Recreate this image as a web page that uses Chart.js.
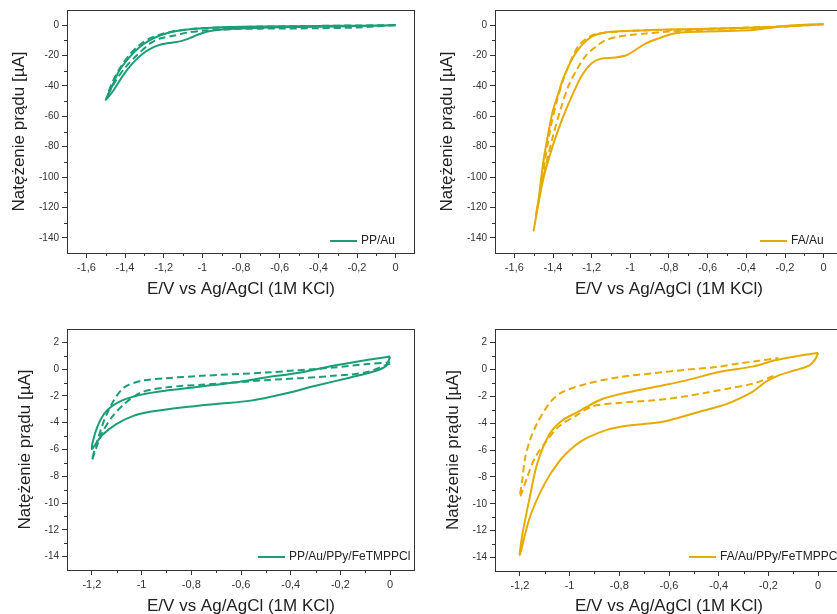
<!DOCTYPE html>
<html lang="pl">
<head>
<meta charset="UTF-8">
<title>Woltamperometria cykliczna</title>
<script src="https://cdn.jsdelivr.net/npm/chart.js"></script>
<style>
  * { box-sizing:border-box; }
  body { margin:0; width:837px; height:614px; overflow:hidden; background:#fff; position:relative; }
  canvas { position:absolute; }
</style>
</head>
<body>
<canvas id="c1" width="420" height="307" style="left:0;top:0"></canvas>
<canvas id="c2" width="430" height="307" style="left:420px;top:0"></canvas>
<canvas id="c3" width="420" height="320" style="left:0;top:307px"></canvas>
<canvas id="c4" width="430" height="320" style="left:420px;top:307px"></canvas>

<script>
  // 1) Dane (E w V, I w µA)
  const ppAuSolidE = [0, -0.2, -0.4, -0.6, -0.8, -0.9, -0.96, -1.01, -1.06, -1.11, -1.16, -1.21, -1.26, -1.31, -1.36, -1.41, -1.46, -1.5,
                      -1.47, -1.43, -1.38, -1.33, -1.28, -1.22, -1.16, -1.1, -1.0, -0.9, -0.7, -0.4, -0.2, 0];
  const ppAuSolidI = [0, -0.6, -1.0, -1.4, -2.1, -2.8, -3.8, -5.6, -8.3, -10.5, -11.5, -12.6, -15, -19, -25, -33, -43, -49,
                      -41, -30, -21.5, -15, -10.5, -6.8, -4.5, -3.2, -2.0, -1.4, -0.9, -0.5, -0.3, 0];
  const ppAuDashE  = [0, -0.2, -0.4, -0.6, -0.8, -0.9, -1.0, -1.08, -1.15, -1.22, -1.27, -1.34, -1.4, -1.45, -1.49,
                      -1.47, -1.43, -1.38, -1.33, -1.28, -1.22, -1.16, -1.1, -1.0, -0.8, -0.5, -0.2, 0];
  const ppAuDashI  = [0, -1.5, -2.0, -2.2, -2.4, -2.9, -3.7, -4.9, -7.0, -8.8, -12, -20, -28, -37, -46,
                      -39, -29, -20, -13.5, -9.2, -6.2, -4.3, -3.2, -2.0, -1.2, -0.6, -0.2, 0];

  const faAuSolidE = [0, -0.1, -0.2, -0.28, -0.35, -0.45, -0.55, -0.65, -0.72, -0.78, -0.85, -0.92, -0.97, -1.02, -1.08, -1.15, -1.2, -1.25, -1.3, -1.35, -1.4, -1.45, -1.5,
                      -1.48, -1.45, -1.42, -1.4, -1.37, -1.35, -1.3, -1.25, -1.2, -1.15, -1.1, -1.0, -0.9, -0.8, -0.6, -0.4, -0.2, -0.1, 0];
  const faAuSolidI = [0.7, 0.3, -0.6, -1.8, -3.0, -3.6, -4.0, -4.3, -4.6, -5.6, -8.5, -12, -16, -19.8, -21.3, -22, -25, -33, -46, -61, -79, -101, -135,
                      -120, -90, -68, -56, -44, -36, -22, -13, -7.5, -5.3, -4.4, -3.6, -3.2, -2.9, -2.4, -1.7, -0.8, -0.1, 0.7];
  const faAuDashE  = [0, -0.2, -0.4, -0.6, -0.8, -0.92, -1.0, -1.07, -1.13, -1.18, -1.23, -1.28, -1.32, -1.36, -1.4, -1.45, -1.49,
                      -1.47, -1.44, -1.41, -1.38, -1.35, -1.31, -1.27, -1.23, -1.18, -1.1, -1.0, -0.8, -0.6, -0.4, -0.2, 0];
  const faAuDashI  = [0.5, -0.9, -1.9, -2.8, -4.2, -5.5, -6.5, -7.7, -10, -14.3, -20, -30, -40, -55, -73, -100, -126,
                      -112, -88, -66, -50, -37, -24, -14, -9, -6, -4.5, -3.7, -3.0, -2.4, -1.6, -0.6, 0.5];

  const ppFeSolidE = [0, -0.016, -0.056, -0.16, -0.3, -0.43, -0.56, -0.7, -0.83, -0.96, -1.03, -1.1, -1.16, -1.2,
                      -1.18, -1.14, -1.08, -1.0, -0.9, -0.76, -0.63, -0.5, -0.36, -0.23, -0.1, 0];
  const ppFeSolidI = [0.94, 0.25, -0.12, -0.62, -1.24, -1.86, -2.35, -2.6, -2.85, -3.17, -3.47, -4.08, -4.95, -5.95,
                      -4.4, -3.1, -2.35, -1.9, -1.6, -1.29, -1.0, -0.62, -0.25, 0.25, 0.67, 0.94];
  const ppFeDashE  = [0, -0.1, -0.23, -0.36, -0.5, -0.63, -0.76, -0.9, -1.0, -1.07, -1.12, -1.16, -1.2,
                      -1.16, -1.12, -1.07, -1.0, -0.9, -0.76, -0.5, -0.23, -0.1, 0];
  const ppFeDashI  = [0.42, -0.25, -0.5, -0.67, -0.82, -1.0, -1.16, -1.36, -1.73, -2.6, -3.6, -4.8, -6.8,
                      -4.3, -2.6, -1.36, -0.87, -0.67, -0.5, -0.25, 0.12, 0.37, 0.5];

  const faFeSolidE = [0, -0.01, -0.035, -0.09, -0.156, -0.21, -0.263, -0.344, -0.4, -0.46, -0.53, -0.6, -0.66, -0.77, -0.85, -0.93, -0.98, -1.04, -1.1, -1.16, -1.2,
                      -1.19, -1.16, -1.13, -1.08, -1.03, -0.97, -0.88, -0.8, -0.66, -0.53, -0.4, -0.26, -0.17, -0.08, 0];
  const faFeSolidI = [1.23, 0.8, 0.3, -0.05, -0.43, -0.92, -1.66, -2.4, -2.76, -3.06, -3.43, -3.8, -4.0, -4.2, -4.5, -5.1, -5.7, -6.8, -8.5, -11.0, -13.8,
                      -12.3, -9.5, -7.0, -4.8, -3.8, -3.2, -2.3, -1.86, -1.32, -0.82, -0.2, 0.22, 0.69, 1.0, 1.23];
  const faFeDashE  = [-0.18, -0.26, -0.36, -0.53, -0.66, -0.8, -0.91, -0.97, -1.04, -1.09, -1.14, -1.17, -1.2,
                      -1.19, -1.18, -1.16, -1.13, -1.08, -1.03, -0.93, -0.8, -0.66, -0.53, -0.4, -0.32, -0.24, -0.16];
  const faFeDashI  = [-0.5, -1.05, -1.42, -2.0, -2.3, -2.5, -2.76, -3.4, -4.2, -5.26, -6.6, -8.0, -9.5,
                      -8.2, -6.7, -5.3, -4.0, -2.5, -1.7, -1.07, -0.58, -0.28, -0.03, 0.19, 0.44, 0.63, 0.85];

  // 2) Osie
  const xTicksWide   = [-1.6, -1.4, -1.2, -1.0, -0.8, -0.6, -0.4, -0.2, 0];
  const xMinorWide   = [-1.5, -1.3, -1.1, -0.9, -0.7, -0.5, -0.3, -0.1];
  const yTicksBig    = [0, -20, -40, -60, -80, -100, -120, -140];
  const yMinorBig    = [-10, -30, -50, -70, -90, -110, -130];
  const xTicksNarrow = [-1.2, -1.0, -0.8, -0.6, -0.4, -0.2, 0];
  const xMinorNarrow = [-1.1, -0.9, -0.7, -0.5, -0.3, -0.1];
  const yTicksSmall  = [2, 0, -2, -4, -6, -8, -10, -12, -14];
  const yMinorSmall  = [1, -1, -3, -5, -7, -9, -11, -13];

  const GREEN  = '#1b9e77';
  const YELLOW = '#e6ab02';
  const FONT   = "'Liberation Sans', Arial, sans-serif";
  const AXIS   = '#333';

  const pts = (E, I) => E.map((e, i) => ({x: e, y: I[i]}));
  const fmt = v => String(+(+v).toFixed(1)).replace('.', ',');

  // ramka, male podzialki, legenda w srodku
  const extras = {
    id: 'extras',
    afterDraw(chart, args, o) {
      const {ctx, chartArea: a, scales: {x, y}} = chart;
      ctx.save();
      ctx.strokeStyle = AXIS;
      ctx.lineWidth = 1;
      ctx.strokeRect(a.left + 0.5, a.top + 0.5, a.right - a.left - 1, a.bottom - a.top);
      ctx.beginPath();
      o.minorX.forEach(v => {
        const px = Math.round(x.getPixelForValue(v)) + 0.5;
        ctx.moveTo(px, a.bottom); ctx.lineTo(px, a.bottom + 3);
      });
      o.minorY.forEach(v => {
        const py = Math.round(y.getPixelForValue(v)) + 0.5;
        ctx.moveTo(a.left, py); ctx.lineTo(a.left - 3, py);
      });
      ctx.stroke();
      // legenda
      const lx = a.left + o.legendX, ly = a.bottom - o.legendY;
      ctx.strokeStyle = o.color; ctx.lineWidth = 2;
      ctx.beginPath(); ctx.moveTo(lx, ly); ctx.lineTo(lx + 27, ly); ctx.stroke();
      ctx.fillStyle = '#222';
      ctx.font = '12px ' + FONT;
      ctx.textBaseline = 'middle';
      ctx.fillText(o.label, lx + 31, ly);
      ctx.restore();
    }
  };

  function makeChart(id, p) {
    new Chart(document.getElementById(id), {
      type: 'scatter',
      data: {
        datasets: [
          { data: pts(p.dashE, p.dashI), showLine: true, borderColor: p.color, borderWidth: 2, borderDash: [7, 4], pointRadius: 0, tension: 0.3 },
          { data: pts(p.solidE, p.solidI), showLine: true, borderColor: p.color, borderWidth: 2, pointRadius: 0, tension: 0.3 }
        ]
      },
      options: {
        responsive: false,
        animation: false,
        layout: { padding: p.pad },
        plugins: {
          legend: { display: false },
          tooltip: { enabled: false },
          extras: { minorX: p.minorX, minorY: p.minorY, color: p.color, label: p.label, legendX: p.legendX, legendY: p.legendY }
        },
        scales: {
          x: {
            type: 'linear', min: p.xMin, max: p.xMax,
            afterBuildTicks: s => { s.ticks = p.xTicks.map(v => ({value: v})); },
            afterFit: s => { s.height = p.xH; },
            ticks: { callback: fmt, autoSkip: false, maxRotation: 0, padding: 3, color: AXIS, font: { family: FONT, size: 11 } },
            grid: { drawOnChartArea: false, tickLength: 5, color: AXIS },
            border: { display: false },
            title: { display: true, text: 'E/V vs Ag/AgCl (1M KCl)', color: '#222', font: { family: FONT, size: 17 }, padding: { top: 0, bottom: p.xTitlePad } }
          },
          y: {
            type: 'linear', min: p.yMin, max: p.yMax,
            afterBuildTicks: s => { s.ticks = p.yTicks.map(v => ({value: v})); },
            afterFit: s => { s.width = p.yW; },
            ticks: { callback: fmt, autoSkip: false, padding: 3, color: AXIS, font: { family: FONT, size: 10 } },
            grid: { drawOnChartArea: false, tickLength: 5, color: AXIS },
            border: { display: false },
            title: { display: true, text: 'Natężenie prądu [µA]', color: '#222', font: { family: FONT, size: 17 }, padding: { top: p.yTitlePad, bottom: 0 } }
          }
        }
      },
      plugins: [extras]
    });
  }

  // 3) Panele
  makeChart('c1', { solidE: ppAuSolidE, solidI: ppAuSolidI, dashE: ppAuDashE, dashI: ppAuDashI, color: GREEN, label: 'PP/Au',
    xMin: -1.7, xMax: 0.1, yMin: -150, yMax: 10, xTicks: xTicksWide, minorX: xMinorWide, yTicks: yTicksBig, minorY: yMinorBig,
    pad: { left: 0, top: 10, right: 5, bottom: 0 }, yW: 67, xH: 54, xTitlePad: 7, yTitlePad: 9, legendX: 263, legendY: 12 });

  makeChart('c2', { solidE: faAuSolidE, solidI: faAuSolidI, dashE: faAuDashE, dashI: faAuDashI, color: YELLOW, label: 'FA/Au',
    xMin: -1.7, xMax: 0.1, yMin: -150, yMax: 10, xTicks: xTicksWide, minorX: xMinorWide, yTicks: yTicksBig, minorY: yMinorBig,
    pad: { left: 0, top: 10, right: 7, bottom: 0 }, yW: 75, xH: 54, xTitlePad: 7, yTitlePad: 17, legendX: 265, legendY: 12 });

  makeChart('c3', { solidE: ppFeSolidE, solidI: ppFeSolidI, dashE: ppFeDashE, dashI: ppFeDashI, color: GREEN, label: 'PP/Au/PPy/FeTMPPCl',
    xMin: -1.3, xMax: 0.1, yMin: -15, yMax: 3, xTicks: xTicksNarrow, minorX: xMinorNarrow, yTicks: yTicksSmall, minorY: yMinorSmall,
    pad: { left: 0, top: 22, right: 5, bottom: 0 }, yW: 67, xH: 57, xTitlePad: 10, yTitlePad: 15, legendX: 191, legendY: 13 });

  makeChart('c4', { solidE: faFeSolidE, solidI: faFeSolidI, dashE: faFeDashE, dashI: faFeDashI, color: YELLOW, label: 'FA/Au/PPy/FeTMPPCl',
    xMin: -1.3, xMax: 0.1, yMin: -15, yMax: 3, xTicks: xTicksNarrow, minorX: xMinorNarrow, yTicks: yTicksSmall, minorY: yMinorSmall,
    pad: { left: 0, top: 22, right: 7, bottom: 0 }, yW: 75, xH: 56, xTitlePad: 10, yTitlePad: 23, legendX: 194, legendY: 14 });
</script>
</body>
</html>
